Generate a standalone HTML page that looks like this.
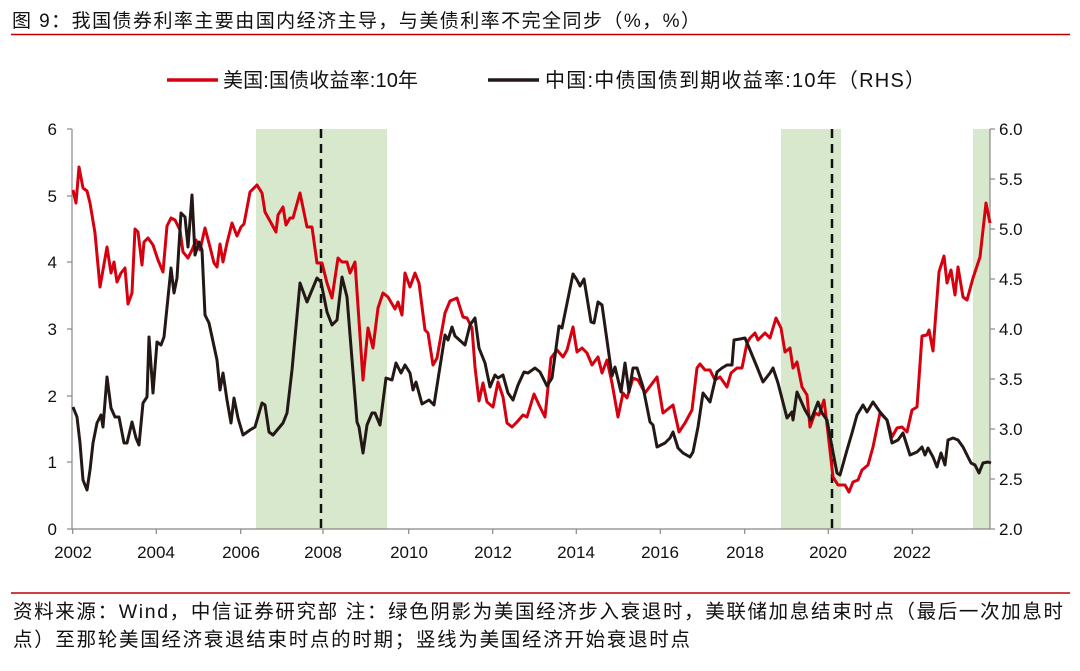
<!DOCTYPE html>
<html><head><meta charset="utf-8"><style>
html,body{margin:0;padding:0;background:#fff;}
svg{display:block;}
text{font-family:"Liberation Sans","Noto Sans CJK SC",sans-serif;fill:#111;}
</style></head><body>
<svg width="1080" height="671" viewBox="0 0 1080 671" xmlns="http://www.w3.org/2000/svg">
<text x="12" y="27" font-size="19" textLength="688" lengthAdjust="spacing">图 9：我国债券利率主要由国内经济主导，与美债利率不完全同步（%，%）</text>
<line x1="11" y1="34.5" x2="1070" y2="34.5" stroke="#c00000" stroke-width="1.5"/>
<!-- legend -->
<line x1="167" y1="80" x2="218" y2="80" stroke="#d7000f" stroke-width="3.5"/>
<text x="223" y="87" font-size="20" textLength="195" lengthAdjust="spacing">美国:国债收益率:10年</text>
<line x1="488" y1="80" x2="539" y2="80" stroke="#231815" stroke-width="3.5"/>
<text x="545" y="87" font-size="20" textLength="380" lengthAdjust="spacing">中国:中债国债到期收益率:10年（RHS）</text>
<!-- shading -->
<rect x="256" y="129" width="131" height="400" fill="#d7e8cc"/>
<rect x="781" y="129" width="60" height="400" fill="#d7e8cc"/>
<rect x="973" y="129" width="17" height="400" fill="#d7e8cc"/>
<line x1="321" y1="129" x2="321" y2="529" stroke="#111" stroke-width="2.5" stroke-dasharray="9,6"/>
<line x1="832" y1="129" x2="832" y2="529" stroke="#111" stroke-width="2.5" stroke-dasharray="9,6"/>
<!-- axes -->
<g stroke="#888" stroke-width="1.2" fill="none">
<line x1="72" y1="129" x2="72" y2="529"/>
<line x1="990" y1="129" x2="990" y2="529"/>
<line x1="72" y1="529" x2="990" y2="529"/>
<line x1="67" y1="129" x2="72" y2="129"/><line x1="67" y1="196" x2="72" y2="196"/><line x1="67" y1="262" x2="72" y2="262"/><line x1="67" y1="329" x2="72" y2="329"/><line x1="67" y1="396" x2="72" y2="396"/><line x1="67" y1="462" x2="72" y2="462"/><line x1="67" y1="529" x2="72" y2="529"/>
<line x1="990" y1="129" x2="995" y2="129"/><line x1="990" y1="179" x2="995" y2="179"/><line x1="990" y1="229" x2="995" y2="229"/><line x1="990" y1="279" x2="995" y2="279"/><line x1="990" y1="329" x2="995" y2="329"/><line x1="990" y1="379" x2="995" y2="379"/><line x1="990" y1="429" x2="995" y2="429"/><line x1="990" y1="479" x2="995" y2="479"/><line x1="990" y1="529" x2="995" y2="529"/>
<line x1="72.7" y1="529" x2="72.7" y2="534"/><line x1="156.3" y1="529" x2="156.3" y2="534"/><line x1="240.7" y1="529" x2="240.7" y2="534"/><line x1="323" y1="529" x2="323" y2="534"/><line x1="408.7" y1="529" x2="408.7" y2="534"/><line x1="492.7" y1="529" x2="492.7" y2="534"/><line x1="576.3" y1="529" x2="576.3" y2="534"/><line x1="660.3" y1="529" x2="660.3" y2="534"/><line x1="744.7" y1="529" x2="744.7" y2="534"/><line x1="828.3" y1="529" x2="828.3" y2="534"/><line x1="912.3" y1="529" x2="912.3" y2="534"/>
</g>
<g font-size="17" text-anchor="end">
<text x="57" y="135">6</text><text x="57" y="202">5</text><text x="57" y="268">4</text><text x="57" y="335">3</text><text x="57" y="402">2</text><text x="57" y="468">1</text><text x="57" y="535">0</text>
</g>
<g font-size="17">
<text x="999" y="135">6.0</text><text x="999" y="185">5.5</text><text x="999" y="235">5.0</text><text x="999" y="285">4.5</text><text x="999" y="335">4.0</text><text x="999" y="385">3.5</text><text x="999" y="435">3.0</text><text x="999" y="485">2.5</text><text x="999" y="535">2.0</text>
</g>
<g font-size="17" text-anchor="middle">
<text x="73" y="558">2002</text><text x="156" y="558">2004</text><text x="241" y="558">2006</text><text x="323" y="558">2008</text><text x="409" y="558">2010</text><text x="493" y="558">2012</text><text x="576" y="558">2014</text><text x="660" y="558">2016</text><text x="745" y="558">2018</text><text x="828" y="558">2020</text><text x="912" y="558">2022</text>
</g>
<!-- red series -->
<polyline fill="none" stroke="#d7000f" stroke-width="3" stroke-linejoin="round" points="73,190 76,203 79,167 83,188 87,191 90,203 95,233 100,287 103,270 107,247 111,273 114,262 117,282 121,273 125,268 128,304 132,293 135,229 138,232 142,265 144,242 148,238 153,245 158,260 163,272 167,226 171,218 175,220 180,230 183,252 188,258 192,250 196,240 200,250 205,228 210,247 214,263 217,267 220,244 223,262 227,243 232,223 237,236 241,227 244,224 250,192 257,185 262,193 265,212 270,221 276,232 278,215 283,207 286,225 290,218 293,218 300,193 307,227 312,227 317,263 322,263 327,283 332,298 338,258 342,262 347,262 350,273 355,262 363,380 368,328 373,348 378,308 383,293 388,297 395,309 398,302 402,315 405,273 410,287 415,273 419,283 425,330 428,333 433,365 437,358 445,313 450,301 457,298 463,317 467,318 472,328 475,367 479,401 483,383 487,402 493,407 498,382 503,397 507,423 512,427 517,422 523,415 527,417 534,394 540,407 545,417 551,358 557,350 563,357 567,350 573,327 577,352 582,348 587,353 592,365 598,357 602,373 607,360 612,383 618,417 623,393 627,398 633,378 638,380 645,393 657,377 663,413 673,405 679,432 685,423 692,410 697,368 700,364 705,370 710,370 715,380 720,377 727,387 731,373 737,368 742,368 747,343 750,338 755,333 758,340 765,333 770,338 776,318 781,328 785,352 790,348 793,368 797,362 802,387 807,395 810,427 815,413 819,415 824,400 828,433 833,477 838,485 845,485 849,492 853,482 858,480 862,470 868,465 873,447 880,413 887,420 892,437 897,428 902,427 907,432 912,410 917,407 922,336 927,335 929,330 933,351 939,272 944,256 947,283 951,270 955,295 958,267 963,297 967,300 973,278 980,257 986,203 990,223"/>
<!-- black series -->
<polyline fill="none" stroke="#231815" stroke-width="3" stroke-linejoin="round" points="73,407 77,417 80,443 83,480 87,490 90,470 93,443 97,423 101,415 103,427 107,377 111,408 115,417 119,417 124,443 127,443 132,422 136,438 139,445 143,403 147,397 149,337 153,393 157,342 161,345 164,337 171,268 174,293 177,278 181,213 185,217 188,247 192,195 195,255 199,242 202,250 205,315 209,323 217,360 220,390 223,373 227,400 231,423 234,398 238,418 243,435 250,430 255,427 262,403 265,405 269,432 273,435 283,423 287,413 292,370 300,283 307,302 317,278 321,282 327,312 332,325 337,320 342,277 347,297 357,422 359,427 363,453 367,425 372,413 375,413 380,425 386,378 392,380 396,363 401,373 405,365 410,373 413,390 416,382 422,404 429,400 434,405 439,373 445,335 448,340 452,327 455,336 465,345 470,325 475,318 479,348 485,363 490,387 495,375 498,378 503,375 508,393 513,400 518,385 524,372 528,373 535,368 540,372 547,386 552,378 559,326 562,328 573,274 577,280 580,286 584,279 591,322 594,323 598,302 602,305 612,376 615,367 621,392 625,363 629,392 633,368 637,368 643,387 650,422 653,425 657,447 665,443 670,438 673,432 678,448 683,453 690,457 693,452 698,427 703,393 710,402 717,372 722,368 727,365 732,365 734,340 740,339 745,338 750,350 757,367 763,382 770,373 773,368 778,383 787,418 792,412 793,420 797,392 805,410 811,420 818,402 822,413 827,420 832,447 837,473 840,475 847,450 852,433 857,415 863,405 867,412 873,402 880,412 887,420 892,443 898,440 903,433 910,455 917,452 922,447 925,455 928,448 933,457 937,467 941,453 945,465 948,440 953,438 958,440 963,447 971,463 975,465 979,473 983,463 988,462 991,463"/>
<!-- footer -->
<line x1="11" y1="593" x2="1070" y2="593" stroke="#c00000" stroke-width="1.5"/>
<text x="13" y="618" font-size="19.5" textLength="1050" lengthAdjust="spacing">资料来源：Wind，中信证券研究部   注：绿色阴影为美国经济步入衰退时，美联储加息结束时点（最后一次加息时</text>
<text x="13" y="646" font-size="19.5" textLength="677" lengthAdjust="spacing">点）至那轮美国经济衰退结束时点的时期；竖线为美国经济开始衰退时点</text>
</svg>
</body></html>
